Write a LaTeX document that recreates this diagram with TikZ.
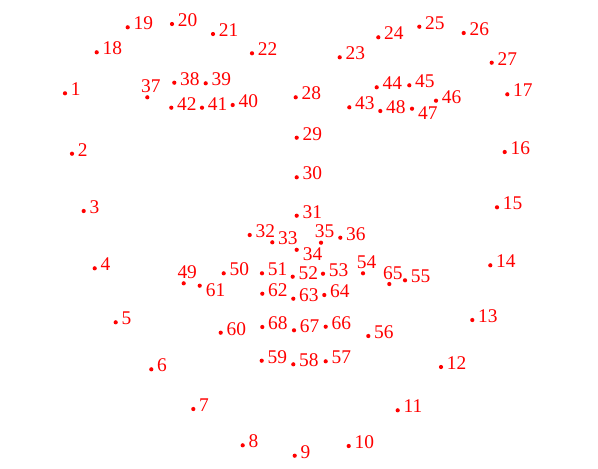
\documentclass[tikz,border=0pt]{standalone}
\usepackage{fontspec}
\setmainfont{Liberation Serif}
\usepackage{tikz}

\tikzset{
	lmk/.style={fill=red},
	lblr/.style={anchor=base west, xshift=2.75pt, yshift=-1.15pt},
	lbla/.style={anchor=base, xshift=1.75pt, yshift=2.45pt},
	lblb/.style={anchor=base west, xshift=2.85pt, yshift=-5.2pt},
	num/.style={text=red, inner sep=0pt, font=\fontsize{9.7}{10}\selectfont}
}

\begin{document}
\begin{tikzpicture}[x=0.5pt, y=-0.5pt]
	\useasboundingbox (0,0) rectangle (598,468);
	% jaw line
	\foreach \n/\x/\y/\s in {1/65/93.3/lblr, 2/72/153.7/lblr, 3/83.7/211/lblr, 4/94.7/268.3/lblr,
		5/115.7/322.3/lblr, 6/151.3/369.3/lblr, 7/193.3/409/lblr, 8/242.7/445.3/lblr,
		9/294.7/455.7/lblr, 10/348.7/446/lblr, 11/397.7/410.3/lblr, 12/441/367/lblr,
		13/472.3/320/lblr, 14/490.3/265.3/lblr, 15/497/207.3/lblr, 16/504.7/152/lblr,
		17/507.3/94.3/lblr,
		% brows
		18/96.7/52.3/lblr, 19/127.7/27.3/lblr, 20/172/24/lblr, 21/213/34/lblr, 22/252/53.3/lblr,
		23/339.7/57.3/lblr, 24/378.3/37.3/lblr, 25/419.3/26.7/lblr, 26/463.7/33/lblr, 27/491.7/62.7/lblr,
		% nose
		28/295.7/97.3/lblr, 29/296.7/137.7/lblr, 30/296.7/177.3/lblr, 31/296.7/215.7/lblr,
		32/249.7/235/lblr, 33/272.3/242.3/lblr, 34/296.7/249.8/lblb, 35/321/242.7/lbla, 36/340.3/237.7/lblr,
		% eyes
		37/147.3/97.3/lbla, 38/174.3/82.7/lblr, 39/205.7/83.3/lblr, 40/232.7/105/lblr,
		41/202/107.7/lblr, 42/171.3/107.7/lblr,
		43/349.3/107.3/lblr, 44/376.7/87.3/lblr, 45/409.3/85.3/lblr, 46/436/100.7/lblr,
		47/412/108.7/lblb, 48/380.3/111/lblr,
		% mouth
		49/183.7/283.3/lbla, 50/223.7/273.3/lblr, 51/262/273.3/lblr, 52/292.7/276.7/lblr,
		53/323/273.7/lblr, 54/363/273.3/lbla, 55/405/280.3/lblr, 56/368.3/336/lblr,
		57/325.7/361.3/lblr, 58/293.3/364.3/lblr, 59/261.7/360.7/lblr, 60/220.7/332.7/lblr,
		61/199.7/285.7/lblb, 62/262.3/293.7/lblr, 63/293.3/298.7/lblr, 64/324.3/295/lblr,
		65/389.3/284/lbla, 66/325.7/326.7/lblr, 67/294/330.3/lblr, 68/262.3/327/lblr}
	{
		\coordinate (p\n) at (\x,\y);
		\fill[lmk] (p\n) circle[radius=1.05pt];
		\node[num, \s] (t\n) at (p\n) {\n};
	}
\end{tikzpicture}
\end{document}
